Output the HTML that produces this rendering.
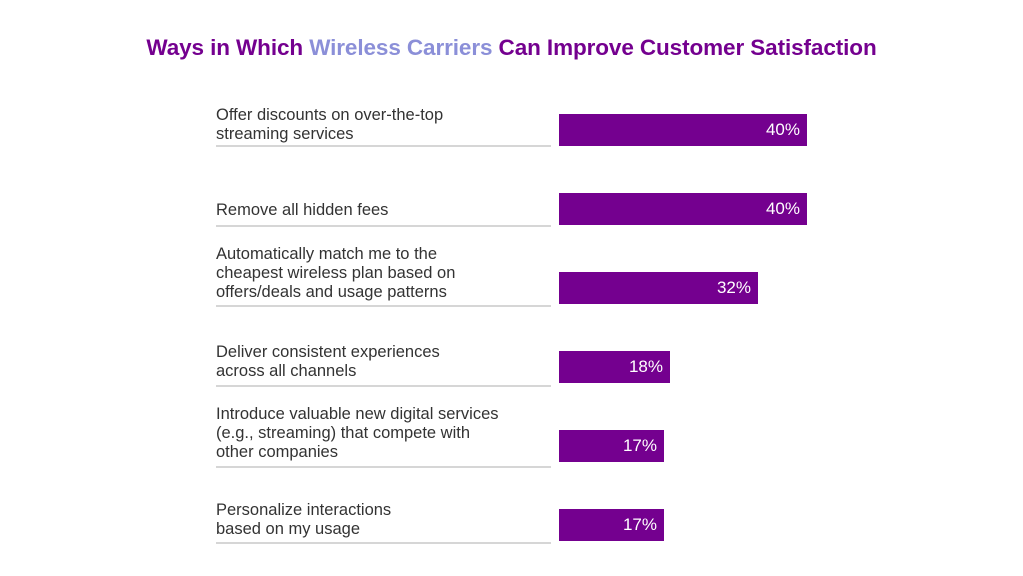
<!DOCTYPE html>
<html><head><style>
body{margin:0;width:1023px;height:576px;background:#fff;position:relative;overflow:hidden;font-family:"Liberation Sans",sans-serif}
.t{position:absolute;top:35px;left:0;width:1023px;text-align:center;font-weight:bold;font-size:22.5px;color:#74008f;letter-spacing:-0.1px}
.t span{color:#8b8fd8}
.l{position:absolute;left:216px;font-size:16.5px;line-height:19px;color:#333}
.s{position:absolute;left:216px;width:335px;height:2px;background:#d6d6d6}
.b{position:absolute;left:559px;height:32px;background:#74008f;color:#fff;font-size:17px;line-height:32px;text-align:right;box-sizing:border-box;padding-right:7px}
</style></head><body>
<div class="t">Ways in Which <span>Wireless Carriers</span> Can Improve Customer Satisfaction</div>

<div class="l" style="top:106px">Offer discounts on over-the-top<br>streaming services</div>
<div class="s" style="top:145px"></div>
<div class="b" style="top:114px;width:248px">40%</div>

<div class="l" style="top:201px">Remove all hidden fees</div>
<div class="s" style="top:225px"></div>
<div class="b" style="top:193px;width:248px">40%</div>

<div class="l" style="top:245px">Automatically match me to the<br>cheapest wireless plan based on<br>offers/deals and usage patterns</div>
<div class="s" style="top:305px"></div>
<div class="b" style="top:272px;width:199px">32%</div>

<div class="l" style="top:343px">Deliver consistent experiences<br>across all channels</div>
<div class="s" style="top:385px"></div>
<div class="b" style="top:351px;width:111px">18%</div>

<div class="l" style="top:405px">Introduce valuable new digital services<br>(e.g., streaming) that compete with<br>other companies</div>
<div class="s" style="top:466px"></div>
<div class="b" style="top:430px;width:105px">17%</div>

<div class="l" style="top:501px">Personalize interactions<br>based on my usage</div>
<div class="s" style="top:542px"></div>
<div class="b" style="top:509px;width:105px">17%</div>
</body></html>
